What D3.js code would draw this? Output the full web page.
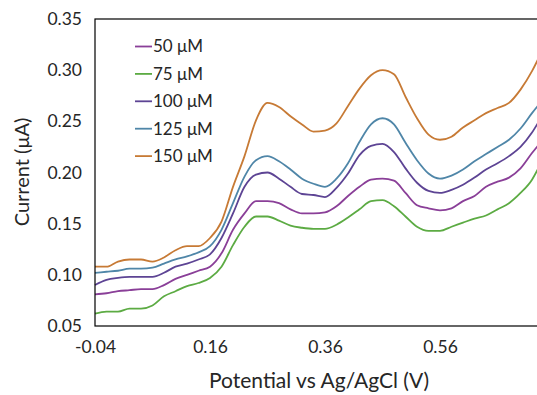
<!DOCTYPE html>
<html>
<head>
<meta charset="utf-8">
<script src="https://cdn.jsdelivr.net/npm/d3@7/dist/d3.min.js"></script>
<style>
  html, body { margin: 0; padding: 0; background: #fff; }
  svg { display: block; font-family: "Century Gothic", Lato, sans-serif; }
  .axis text { fill: #262626; font-size: 17.5px; }
  .title { fill: #262626; font-size: 20px; }
  .title.x { font-size: 21px; }
  .legend text { fill: #262626; font-size: 17px; }
</style>
</head>
<body>
<svg></svg>
<script>
// potentials (V) shared by every scan
const potential = [
  -0.04, -0.02, 0.00, 0.02, 0.04, 0.06, 0.08, 0.10, 0.12, 0.14,
  0.16, 0.18, 0.20, 0.22, 0.24, 0.26, 0.28, 0.30, 0.32, 0.34,
  0.36, 0.38, 0.40, 0.42, 0.44, 0.46, 0.48, 0.50, 0.52, 0.54,
  0.56, 0.58, 0.60, 0.62, 0.64, 0.66, 0.68, 0.70, 0.72, 0.73
];

// current (uA) per concentration
const c50 = [
  0.081, 0.082, 0.084, 0.085, 0.086, 0.086, 0.090, 0.096, 0.100, 0.104,
  0.108, 0.121, 0.144, 0.160, 0.172, 0.172, 0.170, 0.164, 0.160, 0.160,
  0.161, 0.167, 0.177, 0.186, 0.193, 0.194, 0.192, 0.180, 0.168, 0.165,
  0.163, 0.165, 0.172, 0.177, 0.186, 0.191, 0.195, 0.204, 0.219, 0.226
];
const c75 = [
  0.062, 0.064, 0.064, 0.067, 0.067, 0.070, 0.079, 0.084, 0.089, 0.092,
  0.097, 0.108, 0.129, 0.147, 0.157, 0.157, 0.153, 0.148, 0.146, 0.145,
  0.145, 0.149, 0.156, 0.164, 0.172, 0.173, 0.167, 0.157, 0.147, 0.143,
  0.143, 0.147, 0.151, 0.155, 0.158, 0.164, 0.170, 0.180, 0.193, 0.203
];
const c100 = [
  0.090, 0.095, 0.097, 0.098, 0.098, 0.098, 0.102, 0.108, 0.111, 0.115,
  0.120, 0.136, 0.160, 0.186, 0.198, 0.200, 0.194, 0.186, 0.179, 0.178,
  0.176, 0.185, 0.199, 0.217, 0.226, 0.228, 0.220, 0.204, 0.190, 0.182,
  0.180, 0.183, 0.188, 0.195, 0.203, 0.209, 0.216, 0.225, 0.239, 0.248
];
const c125 = [
  0.102, 0.103, 0.104, 0.106, 0.106, 0.107, 0.111, 0.115, 0.118, 0.122,
  0.128, 0.144, 0.170, 0.196, 0.212, 0.216, 0.211, 0.203, 0.194, 0.189,
  0.186, 0.194, 0.209, 0.230, 0.247, 0.253, 0.247, 0.229, 0.212, 0.199,
  0.194, 0.197, 0.203, 0.211, 0.218, 0.225, 0.232, 0.243, 0.258, 0.265
];
const c150 = [
  0.108, 0.108, 0.113, 0.115, 0.115, 0.113, 0.117, 0.124, 0.128, 0.128,
  0.136, 0.152, 0.186, 0.216, 0.251, 0.268, 0.264, 0.255, 0.247, 0.240,
  0.241, 0.248, 0.265, 0.282, 0.295, 0.300, 0.296, 0.274, 0.253, 0.237,
  0.232, 0.235, 0.244, 0.251, 0.258, 0.263, 0.268, 0.281, 0.299, 0.310
];

const labels = ['50 μM', '75 μM', '100 μM', '125 μM', '150 μM'];
const colors = ['#8a3f98', '#5cab43', '#5d4494', '#4f86a8', '#c77a35'];
const xTicks = [-0.04, 0.16, 0.36, 0.56];
const yTicks = [0.05, 0.10, 0.15, 0.20, 0.25, 0.30, 0.35];

const series = [c50, c75, c100, c125, c150];

const width = 537;
const height = 395;
const margin = { top: 19, left: 95, bottom: 326, right: 555 };

const svg = d3.select('svg')
  .attr('width', width)
  .attr('height', height)
;

const x = d3.scaleLinear()
  .domain([-0.04, 0.76])
  .range([margin.left, margin.right])
;
const y = d3.scaleLinear()
  .domain([0.05, 0.35])
  .range([margin.bottom, margin.top])
;

// y axis labels
svg.append('g')
  .attr('class', 'axis')
  .attr('transform', `translate(${margin.left},0)`)
  .call(d3.axisLeft(y)
    .tickValues(yTicks)
    .tickSize(0)
    .tickPadding(13)
    .tickFormat(d => d.toFixed(2)))
  .call(g => g.select('.domain').remove())
;

// x axis labels
svg.append('g')
  .attr('class', 'axis')
  .attr('transform', `translate(0,${margin.bottom})`)
  .call(d3.axisBottom(x)
    .tickValues(xTicks)
    .tickSize(0)
    .tickPadding(15)
    .tickFormat(d => d.toFixed(2)))
  .call(g => g.select('.domain').remove())
;

svg.selectAll('.axis').attr('font-family', null).attr('font-size', null);

const line = d3.line()
  .x((d, i) => x(potential[i]))
  .y(d => y(d))
  .curve(d3.curveMonotoneX)
;

svg.append('g')
  .selectAll('path')
  .data(series)
  .enter().append('path')
  .attr('d', line)
  .attr('fill', 'none')
  .attr('stroke', (d, i) => colors[i])
  .attr('stroke-width', 1.8)
;

// plot frame
svg.append('rect')
  .attr('x', margin.left)
  .attr('y', margin.top)
  .attr('width', margin.right - margin.left)
  .attr('height', margin.bottom - margin.top)
  .attr('fill', 'none')
  .attr('stroke', '#000')
  .attr('stroke-width', 1.2)
;

// legend
const legend = svg.append('g')
  .attr('class', 'legend')
  .selectAll('g')
  .data(labels)
  .enter().append('g')
  .attr('transform', (d, i) => `translate(135,${46.5 + i * 27.4})`)
;
legend.append('line')
  .attr('x1', 0)
  .attr('x2', 17)
  .attr('stroke', (d, i) => colors[i])
  .attr('stroke-width', 1.8)
;
legend.append('text')
  .attr('x', 18)
  .attr('dy', '0.35em')
  .text(d => d)
;

svg.append('text')
  .attr('class', 'title x')
  .attr('x', 319)
  .attr('y', 381)
  .attr('dy', '0.35em')
  .attr('text-anchor', 'middle')
  .text('Potential vs Ag/AgCl (V)')
;
svg.append('text')
  .attr('class', 'title')
  .attr('transform', 'translate(22,172) rotate(-90)')
  .attr('dy', '0.35em')
  .attr('text-anchor', 'middle')
  .text('Current (μA)')
;
</script>
</body>
</html>
